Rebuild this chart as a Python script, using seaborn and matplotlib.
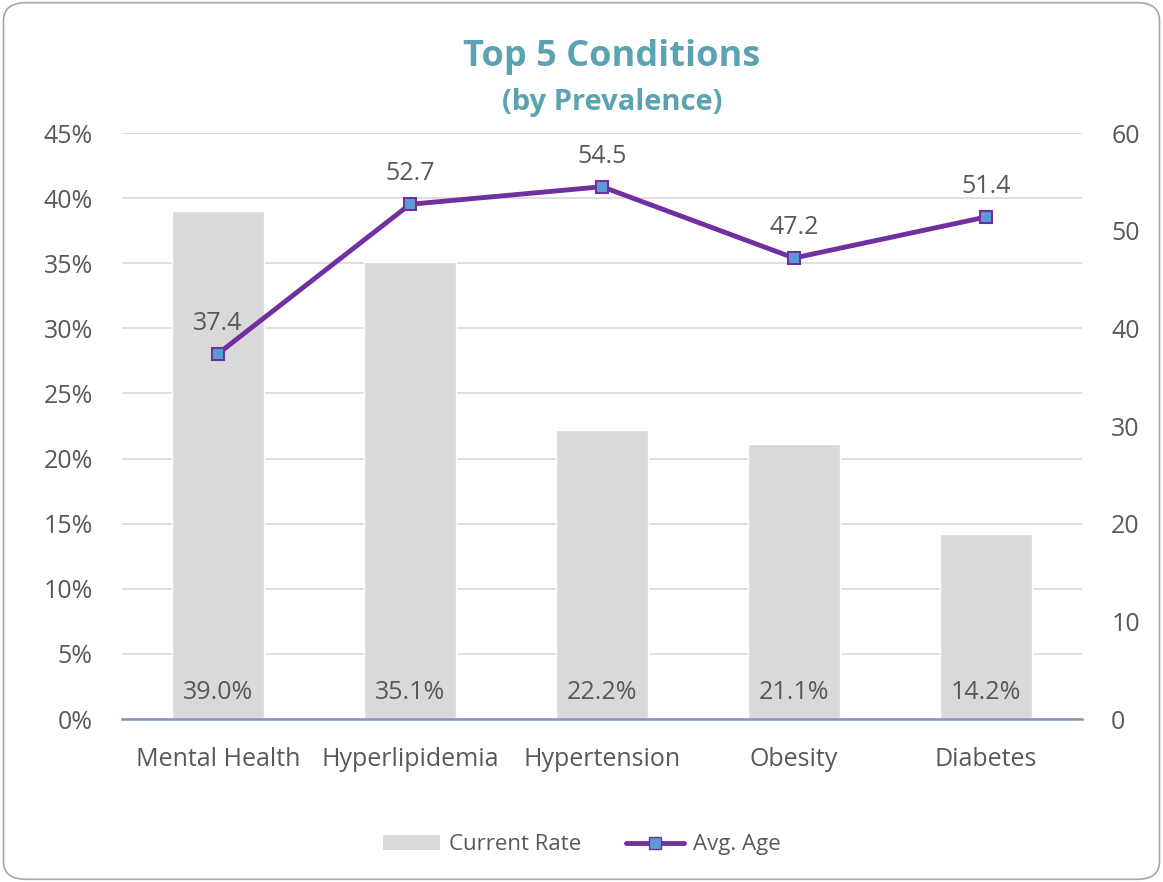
import matplotlib
matplotlib.use("Agg")
import matplotlib.pyplot as plt
import seaborn as sns
import pandas as pd
from matplotlib.patches import FancyBboxPatch, Patch
from matplotlib.lines import Line2D
from matplotlib.ticker import PercentFormatter

condiciones = ["Mental Health", "Hyperlipidemia", "Hypertension", "Obesity", "Diabetes"]
tasa_actual = [39.0, 35.1, 22.2, 21.1, 14.2]
edad_media = [37.4, 52.7, 54.5, 47.2, 51.4]

GRIS_TEXTO = "#595959"
GRIS_BARRA = "#D9D9D9"
MORADO = "#7030A0"
AZUL = "#5B9BD5"
TEAL = "#5BA3B0"
TAM = 18

sns.set_theme(style="white")
plt.rcParams["font.family"] = ["Open Sans", "DejaVu Sans"]

df = pd.DataFrame({"cond": condiciones, "tasa": tasa_actual, "edad": edad_media})

fig = plt.figure(figsize=(11.63, 8.82), dpi=100)
ax = fig.add_axes([0.1049, 0.1848, 0.8255, 0.6644])

# borde redondeado
marco = FancyBboxPatch((0.003, 0.003), 0.994, 0.994, boxstyle="round,pad=0,rounding_size=0.02",
                       transform=fig.transFigure, facecolor="white", edgecolor="#A6A6A6",
                       linewidth=1.2, zorder=-10)
fig.patches.append(marco)

sns.barplot(data=df, x="cond", y="tasa", color=GRIS_BARRA, width=0.48, saturation=1, ax=ax, zorder=2)
ax.set_ylim(0, 45)
ax.set_xlim(-0.5, 4.5)
ax.set_yticks(range(0, 50, 5))
ax.yaxis.set_major_formatter(PercentFormatter(decimals=0))
ax.grid(axis="y", color="#D9D9D9", linewidth=1.2, zorder=0)
ax.set_axisbelow(True)
for s in ["top", "right", "left"]:
    ax.spines[s].set_visible(False)
ax.spines["bottom"].set_color("#8497B0")
ax.spines["bottom"].set_linewidth(1.8)
ax.set_xlabel("")
ax.set_ylabel("")
ax.tick_params(axis="both", length=0, labelsize=TAM, labelcolor=GRIS_TEXTO)
ax.tick_params(axis="x", pad=20)
ax.tick_params(axis="y", pad=21)

for i, v in enumerate(tasa_actual):
    ax.text(i, 2.0, f"{v:.1f}%", ha="center", va="center", fontsize=TAM, color=GRIS_TEXTO, zorder=5)

ax2 = ax.twinx()
sns.lineplot(data=df, x="cond", y="edad", sort=False, color=MORADO, linewidth=3.5, marker="s",
             markersize=9, markerfacecolor=AZUL, markeredgecolor=MORADO, markeredgewidth=1.5, ax=ax2, zorder=4)
ax2.set_ylim(0, 60)
ax2.set_xlim(-0.5, 4.5)
ax2.set_yticks(range(0, 70, 10))
for s in ax2.spines.values():
    s.set_visible(False)
ax2.set_ylabel("")
ax2.tick_params(axis="y", length=0, labelsize=TAM, labelcolor=GRIS_TEXTO, pad=21)
ax2.grid(False)

for i, v in enumerate(edad_media):
    ax2.annotate(f"{v:.1f}", (i, v), xytext=(0, 13), textcoords="offset points",
                 ha="center", va="bottom", fontsize=TAM, color=GRIS_TEXTO)

fig.text(0.526, 0.935, "Top 5 Conditions", ha="center", va="center", fontsize=26,
         fontweight="bold", color=TEAL)
fig.text(0.526, 0.884, "(by Prevalence)", ha="center", va="center", fontsize=21,
         fontweight="bold", color=TEAL)

manijas = [Patch(facecolor=GRIS_BARRA, edgecolor="none", label="Current Rate"),
           Line2D([0], [0], color=MORADO, linewidth=3.5, marker="s", markersize=9,
                  markerfacecolor=AZUL, markeredgecolor=MORADO, label="Avg. Age")]
fig.legend(handles=manijas, loc="center", bbox_to_anchor=(0.5, 0.042), ncol=2, frameon=False,
           fontsize=16, labelcolor=GRIS_TEXTO, handlelength=2.6, handletextpad=0.4, columnspacing=2.0)

fig.savefig("out.png", dpi=100)
